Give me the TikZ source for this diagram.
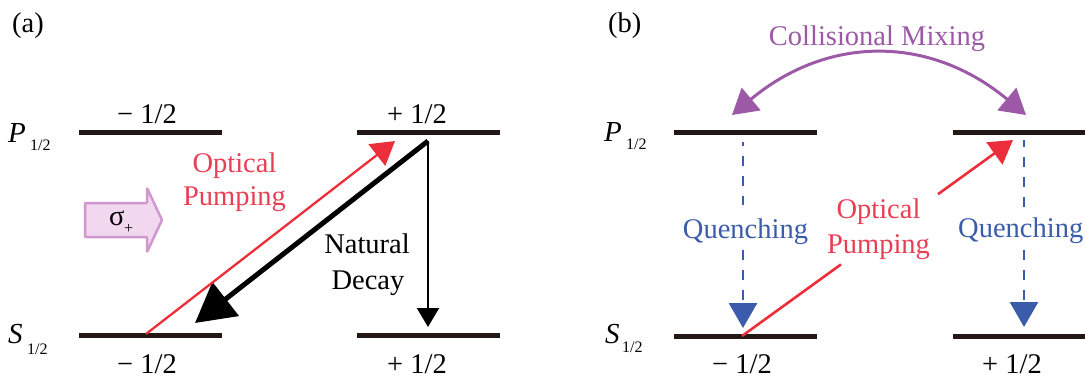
\documentclass[tikz,border=0pt]{standalone}
\usepackage{fontspec}
\setmainfont{Liberation Serif}
\usetikzlibrary{arrows.meta}
\definecolor{lev}{RGB}{35,24,21}
\definecolor{redl}{RGB}{236,46,58}
\definecolor{redt}{RGB}{233,62,84}
\definecolor{bluec}{RGB}{58,92,170}
\definecolor{purp}{RGB}{155,89,166}
\definecolor{sigfill}{RGB}{242,216,238}
\definecolor{sigdraw}{RGB}{208,150,206}
\begin{document}
\begin{tikzpicture}[x=1pt,y=-1pt,
  lvl/.style={fill=lev, draw=none, minimum width=143pt, minimum height=5pt, inner sep=0pt, outer sep=0pt},
  txt/.style={font=\fontsize{28.5}{35}\selectfont, inner sep=0pt, anchor=base},
  subtxt/.style={font=\fontsize{16}{18}\selectfont, inner sep=0pt, anchor=base west},
  redarrow/.style={draw=redl, line width=2.3pt},
  redtip/.style={-{Triangle[length=23pt,width=27pt]}},
  bluedash/.style={draw=bluec, line width=2.8pt, dash pattern=on 10pt off 10pt},
  bluetip/.style={-{Triangle[length=25pt,width=28pt]}},
  purparrow/.style={draw=purp, line width=3pt, {Triangle[length=25pt,width=29pt]}-{Triangle[length=25pt,width=29pt]}},
  sigarrow/.style={fill=sigfill, draw=sigdraw, line width=2.5pt, rounded corners=1pt}
]
\useasboundingbox (0,0) rectangle (1085,378);

% panel labels
\node[txt, anchor=base west] (lbla) at (12,32) {(a)};
\node[txt, anchor=base west] (lblb) at (608,32) {(b)};

% state labels
\node[txt, anchor=base west, font=\fontsize{29}{35}\selectfont\itshape] (aP) at (8,142) {P};
\node[subtxt] (aPs) at (30,150) {1/2};
\node[txt, anchor=base west, font=\fontsize{29}{35}\selectfont\itshape] (aS) at (8,343) {S};
\node[subtxt] (aSs) at (27,354) {1/2};
\node[txt, anchor=base west, font=\fontsize{29}{35}\selectfont\itshape] (bP) at (604,141) {P};
\node[subtxt] (bPs) at (626,149) {1/2};
\node[txt, anchor=base west, font=\fontsize{29}{35}\selectfont\itshape] (bS) at (605,343) {S};
\node[subtxt] (bSs) at (622,352) {1/2};

% levels
\node[lvl] (aPm) at (150,132) {};
\node[lvl] (aPp) at (428.5,132) {};
\node[lvl] (aSm) at (150,335) {};
\node[lvl] (aSp) at (428.5,335) {};
\node[lvl] (bPm) at (745.5,132) {};
\node[lvl] (bPp) at (1024.5,132) {};
\node[lvl] (bSm) at (745.5,336) {};
\node[lvl] (bSp) at (1024.5,336) {};

% m_J labels
\node[txt] (aPmt) at (147,123) {− 1/2};
\node[txt] (aPpt) at (417,123) {+ 1/2};
\node[txt] (aSmt) at (147,373) {− 1/2};
\node[txt] (aSpt) at (417,373) {+ 1/2};
\node[txt] (bSmt) at (742,373) {− 1/2};
\node[txt] (bSpt) at (1012,373) {+ 1/2};

% sigma+ arrow
\draw[sigarrow] (85,203) -- (147,203) -- (147,188) -- (162,220) -- (147,252) -- (147,237) -- (85,237) -- cycle;
\node[txt, anchor=base west] (sig) at (109,225) {σ};
\node[subtxt] (sigs) at (124,233) {+};

% panel (a) arrows
\coordinate (aRs) at (146,334);
\coordinate (aRe) at (395,141);
\coordinate (aKs) at (428,141);
\coordinate (aKe) at (195,323);
\coordinate (aVe) at (428,327);
\draw[line width=5pt, -{Triangle[length=39pt,width=42pt]}] (aKs) -- (aKe);
\draw[line width=2pt, -{Triangle[length=19pt,width=22pt]}] (aKs) -- (aVe);
\draw[redarrow, redtip] (aRs) -- (aRe);

\node[txt, text=redt] (aOpt) at (234.5,172) {Optical};
\node[txt, text=redt] (aPum) at (234.5,205) {Pumping};
\node[txt] (aNat) at (367,253) {Natural};
\node[txt] (aDec) at (368,289) {Decay};

% panel (b) arrows
\coordinate (cmL) at (732,115);
\coordinate (cmR) at (1026,115);
\draw[purparrow] (cmL) .. controls (828,35) and (930,35) .. (cmR);
\node[txt, text=purp] (cm) at (877,45) {Collisional Mixing};

\coordinate (qLs) at (743,142);
\coordinate (qLa) at (743,205);
\coordinate (qLb) at (743,250);
\coordinate (qLe) at (743,328);
\draw[bluedash, dash phase=6pt] (qLs) -- (qLa);
\draw[bluedash, bluetip] (qLb) -- (qLe);
\coordinate (qRs) at (1024,140);
\coordinate (qRa) at (1024,207);
\coordinate (qRb) at (1024,250);
\coordinate (qRe) at (1024,327);
\draw[bluedash, dash phase=3pt] (qRs) -- (qRa);
\draw[bluedash, bluetip] (qRb) -- (qRe);
\node[txt, text=bluec] (qL) at (745.5,238) {Quenching};
\node[txt, text=bluec, anchor=base west] (qR) at (958,237) {Quenching};

\coordinate (bRs) at (742,336);
\coordinate (bRa) at (841,264.4);
\coordinate (bRb) at (938,194.2);
\coordinate (bRe) at (1013,140);
\draw[redarrow, line width=2.6pt] (bRs) -- (bRa);
\draw[redarrow, line width=2.6pt, redtip] (bRb) -- (bRe);
\node[txt, text=redt] (bOpt) at (878.5,218) {Optical};
\node[txt, text=redt] (bPum) at (878.5,253) {Pumping};
\end{tikzpicture}
\end{document}
